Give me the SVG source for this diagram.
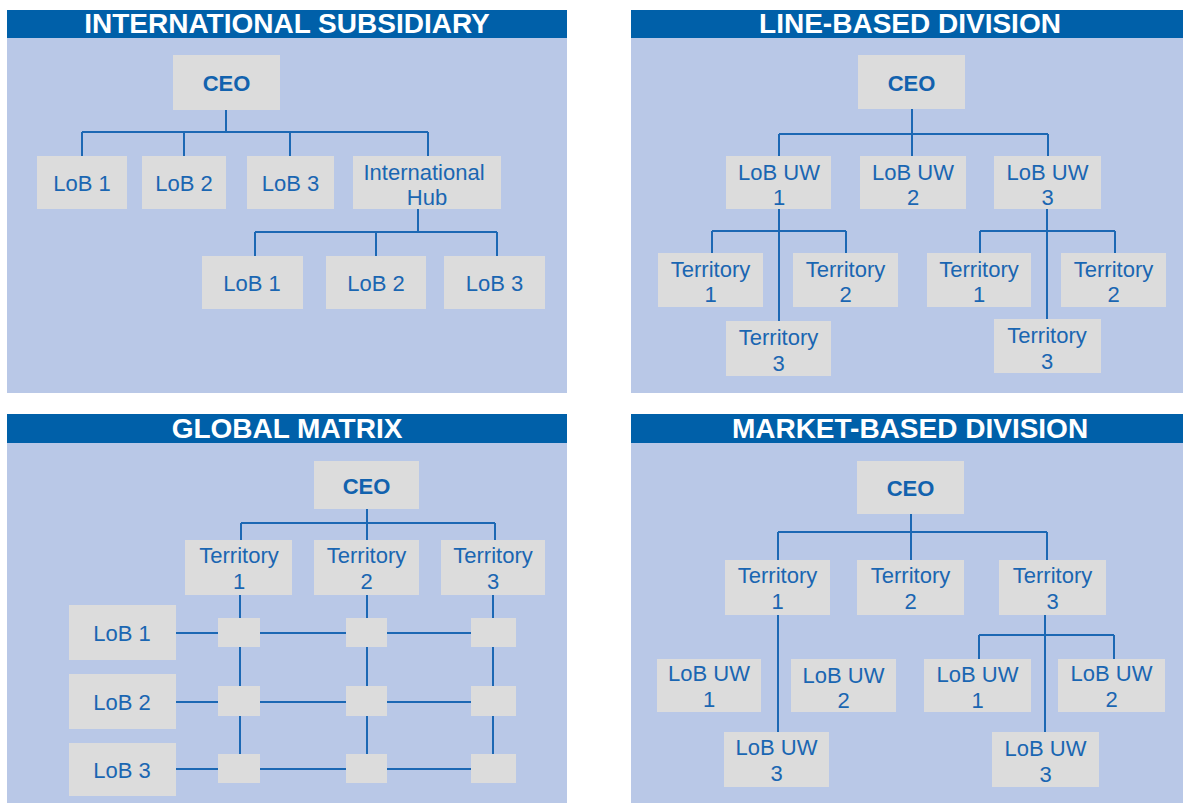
<svg xmlns="http://www.w3.org/2000/svg" width="1183" height="803" viewBox="0 0 1183 803">
<style>
.bg{fill:#B9C8E7}
.hd{fill:#0060A9}
.ht{fill:#FFFFFF;font-family:"Liberation Sans",Arial,sans-serif;font-weight:bold;font-size:28px;text-anchor:middle}
.bx{fill:#DCDCDC}
.t{fill:#1A66B2;font-family:"Liberation Sans",Arial,sans-serif;font-size:22px;text-anchor:middle}
.ceo{fill:#1262AE;font-family:"Liberation Sans",Arial,sans-serif;font-weight:bold;font-size:22px;text-anchor:middle}
.ln{fill:none;stroke:#1C68B4;stroke-width:2}
</style>
<rect width="1183" height="803" fill="#FFFFFF"/>

<!-- Panel backgrounds -->
<g id="panel-international">
<rect class="bg" x="7" y="10" width="560" height="383"/>
<rect class="hd" x="7" y="10" width="560" height="28"/>
<text class="ht" x="287" y="33">INTERNATIONAL SUBSIDIARY</text>
</g>
<g id="panel-line">
<rect class="bg" x="631" y="10" width="552" height="383"/>
<rect class="hd" x="631" y="10" width="552" height="28"/>
<text class="ht" x="910" y="33">LINE-BASED DIVISION</text>
</g>
<g id="panel-matrix">
<rect class="bg" x="7" y="414" width="560" height="389"/>
<rect class="hd" x="7" y="414" width="560" height="29"/>
<text class="ht" x="287" y="438">GLOBAL MATRIX</text>
</g>
<g id="panel-market">
<rect class="bg" x="631" y="414" width="552" height="389"/>
<rect class="hd" x="631" y="414" width="552" height="29"/>
<text class="ht" x="910" y="438">MARKET-BASED DIVISION</text>
</g>

<!-- Connectors -->
<g id="connectors">
<!-- Panel 1 -->
<path class="ln" d="M226 110V132M82 132H428M82 132V156M184 132V156M290 132V156M428 132V156"/>
<path class="ln" d="M418 209V232M255 232H497M255 232V256M376 232V256M497 232V256"/>
<!-- Panel 2 -->
<path class="ln" d="M912 109V156M779 134H1048M779 134V156M1048 134V156"/>
<path class="ln" d="M779 209V321M712 231H846M712 231V253M846 231V253"/>
<path class="ln" d="M1047 209V319M980 231H1115M980 231V253M1115 231V253"/>
<!-- Panel 3 -->
<path class="ln" d="M367 509V540M241 523H495M241 523V540M495 523V540"/>
<path class="ln" d="M240 595V769M367 595V769M493 595V769"/>
<path class="ln" d="M176 633H493M176 702H493M176 769H493"/>
<!-- Panel 4 -->
<path class="ln" d="M911 514V560M778 532H1047M778 532V560M1047 532V560"/>
<path class="ln" d="M778 615V732"/>
<path class="ln" d="M1045 615V732M979 635H1114M979 635V659M1114 635V659"/>
</g>

<!-- Panel 1 nodes -->
<g id="p1-ceo"><rect class="bx" x="173" y="55" width="107" height="55"/><text class="ceo" x="226.5" y="91">CEO</text></g>
<g id="p1-lob1"><rect class="bx" x="37" y="156" width="90" height="53"/><text class="t" x="82" y="191">LoB 1</text></g>
<g id="p1-lob2"><rect class="bx" x="142" y="156" width="84" height="53"/><text class="t" x="184" y="191">LoB 2</text></g>
<g id="p1-lob3"><rect class="bx" x="247" y="156" width="87" height="53"/><text class="t" x="290.5" y="191">LoB 3</text></g>
<g id="p1-hub"><rect class="bx" x="353" y="156" width="148" height="53"/><text class="t" x="424" y="180">International</text><text class="t" x="427" y="205">Hub</text></g>
<g id="p1-hub-lob1"><rect class="bx" x="202" y="256" width="101" height="53"/><text class="t" x="252" y="291">LoB 1</text></g>
<g id="p1-hub-lob2"><rect class="bx" x="326" y="256" width="100" height="53"/><text class="t" x="376" y="291">LoB 2</text></g>
<g id="p1-hub-lob3"><rect class="bx" x="444" y="256" width="101" height="53"/><text class="t" x="494.5" y="291">LoB 3</text></g>

<!-- Panel 2 nodes -->
<g id="p2-ceo"><rect class="bx" x="858" y="55" width="107" height="54"/><text class="ceo" x="911.5" y="91">CEO</text></g>
<g id="p2-lobuw1"><rect class="bx" x="726" y="156" width="105" height="53"/><text class="t" x="779" y="180">LoB UW</text><text class="t" x="779" y="205">1</text></g>
<g id="p2-lobuw2"><rect class="bx" x="860" y="156" width="106" height="53"/><text class="t" x="913" y="180">LoB UW</text><text class="t" x="913" y="205">2</text></g>
<g id="p2-lobuw3"><rect class="bx" x="994" y="156" width="107" height="53"/><text class="t" x="1047.5" y="180">LoB UW</text><text class="t" x="1047.5" y="205">3</text></g>
<g id="p2-t1a"><rect class="bx" x="658" y="253" width="105" height="54"/><text class="t" x="710.5" y="277">Territory</text><text class="t" x="710.5" y="302">1</text></g>
<g id="p2-t2a"><rect class="bx" x="793" y="253" width="105" height="54"/><text class="t" x="845.5" y="277">Territory</text><text class="t" x="845.5" y="302">2</text></g>
<g id="p2-t3a"><rect class="bx" x="726" y="321" width="105" height="55"/><text class="t" x="778.5" y="345">Territory</text><text class="t" x="778.5" y="371">3</text></g>
<g id="p2-t1b"><rect class="bx" x="927" y="253" width="104" height="54"/><text class="t" x="979" y="277">Territory</text><text class="t" x="979" y="302">1</text></g>
<g id="p2-t2b"><rect class="bx" x="1061" y="253" width="105" height="54"/><text class="t" x="1113.5" y="277">Territory</text><text class="t" x="1113.5" y="302">2</text></g>
<g id="p2-t3b"><rect class="bx" x="994" y="319" width="107" height="54"/><text class="t" x="1047" y="343">Territory</text><text class="t" x="1047" y="369">3</text></g>

<!-- Panel 3 nodes -->
<g id="p3-ceo"><rect class="bx" x="314" y="461" width="105" height="48"/><text class="ceo" x="366.5" y="494">CEO</text></g>
<g id="p3-t1"><rect class="bx" x="185" y="540" width="107" height="55"/><text class="t" x="239" y="563">Territory</text><text class="t" x="239" y="589">1</text></g>
<g id="p3-t2"><rect class="bx" x="314" y="540" width="105" height="55"/><text class="t" x="366.5" y="563">Territory</text><text class="t" x="366.5" y="589">2</text></g>
<g id="p3-t3"><rect class="bx" x="441" y="540" width="104" height="55"/><text class="t" x="493" y="563">Territory</text><text class="t" x="493" y="589">3</text></g>
<g id="p3-lob1"><rect class="bx" x="69" y="605" width="107" height="55"/><text class="t" x="122" y="641">LoB 1</text></g>
<g id="p3-lob2"><rect class="bx" x="69" y="674" width="107" height="55"/><text class="t" x="122" y="710">LoB 2</text></g>
<g id="p3-lob3"><rect class="bx" x="69" y="743" width="107" height="53"/><text class="t" x="122" y="778">LoB 3</text></g>
<g id="p3-cells">
<rect class="bx" x="218" y="618" width="42" height="29"/>
<rect class="bx" x="346" y="618" width="41" height="29"/>
<rect class="bx" x="471" y="618" width="45" height="29"/>
<rect class="bx" x="218" y="686" width="42" height="30"/>
<rect class="bx" x="346" y="686" width="41" height="30"/>
<rect class="bx" x="471" y="686" width="45" height="30"/>
<rect class="bx" x="218" y="754" width="42" height="29"/>
<rect class="bx" x="346" y="754" width="41" height="29"/>
<rect class="bx" x="471" y="754" width="45" height="29"/>
</g>

<!-- Panel 4 nodes -->
<g id="p4-ceo"><rect class="bx" x="857" y="461" width="107" height="53"/><text class="ceo" x="910.5" y="496">CEO</text></g>
<g id="p4-t1"><rect class="bx" x="725" y="560" width="105" height="55"/><text class="t" x="777.5" y="583">Territory</text><text class="t" x="777.5" y="609">1</text></g>
<g id="p4-t2"><rect class="bx" x="857" y="560" width="107" height="55"/><text class="t" x="910.5" y="583">Territory</text><text class="t" x="910.5" y="609">2</text></g>
<g id="p4-t3"><rect class="bx" x="999" y="560" width="107" height="55"/><text class="t" x="1052.5" y="583">Territory</text><text class="t" x="1052.5" y="609">3</text></g>
<g id="p4-uw1a"><rect class="bx" x="657" y="659" width="104" height="53"/><text class="t" x="709" y="681">LoB UW</text><text class="t" x="709" y="707">1</text></g>
<g id="p4-uw2a"><rect class="bx" x="791" y="659" width="105" height="53"/><text class="t" x="843.5" y="683">LoB UW</text><text class="t" x="843.5" y="708">2</text></g>
<g id="p4-uw3a"><rect class="bx" x="724" y="732" width="105" height="55"/><text class="t" x="776.5" y="755">LoB UW</text><text class="t" x="776.5" y="781">3</text></g>
<g id="p4-uw1b"><rect class="bx" x="924" y="659" width="107" height="53"/><text class="t" x="977.5" y="682">LoB UW</text><text class="t" x="977.5" y="708">1</text></g>
<g id="p4-uw2b"><rect class="bx" x="1058" y="659" width="107" height="53"/><text class="t" x="1111.5" y="681">LoB UW</text><text class="t" x="1111.5" y="707">2</text></g>
<g id="p4-uw3b"><rect class="bx" x="992" y="732" width="107" height="55"/><text class="t" x="1045.5" y="756">LoB UW</text><text class="t" x="1045.5" y="782">3</text></g>
</svg>
